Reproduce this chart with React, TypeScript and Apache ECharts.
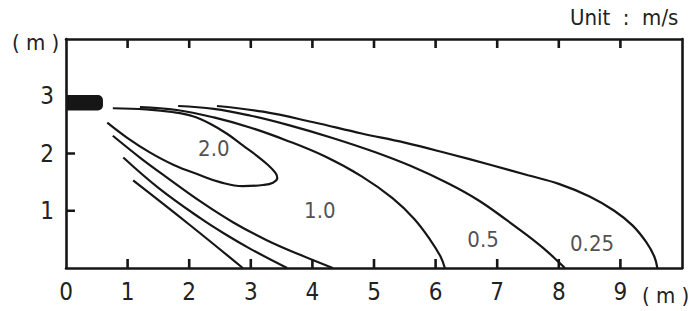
import React, { useEffect, useRef } from "react";
import * as echarts from "echarts";

// Axis ranges / ticks
const xTickValues = [0, 1, 2, 3, 4, 5, 6, 7, 8, 9];
const yTickValues = [1, 2, 3];
const xMarkTicks = [1, 2, 3, 4, 5, 6, 7, 8, 9];
const yMarkTicks = [1, 2, 3];

// Contour lines (x in m, y in m)
const contour20Loop = [
  [0.76, 2.79], [1.3, 2.77], [1.75, 2.72], [2.06, 2.65], [2.34, 2.52], [2.62, 2.34],
  [2.87, 2.14], [3.1, 1.96], [3.28, 1.8], [3.4, 1.66], [3.43, 1.57], [3.36, 1.49],
  [3.2, 1.45], [2.87, 1.43], [2.5, 1.5], [2.18, 1.62], [1.75, 1.8], [1.36, 2.02],
  [1.0, 2.27], [0.67, 2.54],
];
const contour10Upper = [
  [1.2, 2.81], [1.8, 2.76], [2.4, 2.63], [3.0, 2.45], [3.6, 2.22], [4.2, 1.95],
  [4.8, 1.6], [5.3, 1.22], [5.65, 0.86], [5.92, 0.48], [6.08, 0.2], [6.15, 0],
];
const contour10Lower = [
  [0.76, 2.31], [1.2, 1.93], [1.64, 1.58], [2.2, 1.15], [2.71, 0.8], [3.25, 0.49],
  [3.8, 0.23], [4.33, 0],
];
const contour05Upper = [
  [1.82, 2.83], [2.4, 2.78], [3.0, 2.66], [3.6, 2.5], [4.3, 2.28], [5.0, 2.03],
  [5.6, 1.78], [6.2, 1.48], [6.7, 1.18], [7.15, 0.84], [7.5, 0.56], [7.8, 0.3],
  [8.0, 0.1], [8.1, 0],
];
const contour05Lower = [
  [0.93, 1.93], [1.5, 1.4], [2.18, 0.87], [2.6, 0.58], [3.0, 0.33], [3.59, 0],
];
const contour025Upper = [
  [2.45, 2.83], [3.2, 2.73], [4.0, 2.55], [4.8, 2.35], [5.5, 2.19], [6.2, 2.0],
  [6.9, 1.8], [7.5, 1.62], [8.0, 1.47], [8.5, 1.25], [8.9, 1.0], [9.2, 0.74],
  [9.42, 0.45], [9.55, 0.2], [9.6, 0],
];
const contour025Lower = [
  [1.09, 1.53], [2.0, 0.76], [2.87, 0],
];

// Contour labels: [x, y, text]
const contourLabels = [
  [2.4, 2.08, "2.0"],
  [4.12, 1.0, "1.0"],
  [6.77, 0.49, "0.5"],
  [8.54, 0.43, "0.25"],
];

// Nozzle: [xStart, xEnd, yBottom, yTop]
const nozzle = [[0, 0.6, 2.75, 3.02]];

const FONT = "'Liberation Sans Narrow', 'DejaVu Sans Condensed', 'Noto Sans', sans-serif";
const INK = "#161616";
const TICK_LEN = 9;
const TICK_W = 2.6;
const X_MAX = 10;
const Y_MAX = 4;

export default function App() {
  const ref = useRef<HTMLDivElement>(null);

  useEffect(() => {
    if (!ref.current) return;
    const chart = echarts.init(ref.current, null, { renderer: "svg" });

    const lineSeries = (data: number[][]) => ({
      type: "line",
      data,
      smooth: 0.4,
      symbol: "none",
      xAxisIndex: 0,
      yAxisIndex: 0,
      lineStyle: { color: INK, width: 2.2 },
      silent: true,
      z: 3,
    });

    const axisLineStyle = { color: INK, width: 2.6 };

    const baseSeries: any[] = [
      lineSeries(contour20Loop),
      lineSeries(contour10Upper),
      lineSeries(contour10Lower),
      lineSeries(contour05Upper),
      lineSeries(contour05Lower),
      lineSeries(contour025Upper),
      lineSeries(contour025Lower),
      {
        type: "custom",
        xAxisIndex: 0,
        yAxisIndex: 0,
        data: nozzle,
        encode: { x: [0, 1], y: [2, 3] },
        z: 5,
        renderItem: (_params: any, api: any) => {
          const p1 = api.coord([api.value(0), api.value(3)]);
          const p2 = api.coord([api.value(1), api.value(2)]);
          return {
            type: "rect",
            shape: { x: p1[0], y: p1[1], width: p2[0] - p1[0], height: p2[1] - p1[1], r: [0, 5, 5, 0] },
            style: { fill: INK },
          };
        },
      },
      {
        type: "scatter",
        xAxisIndex: 0,
        yAxisIndex: 0,
        data: contourLabels,
        symbolSize: 1,
        itemStyle: { color: "rgba(0,0,0,0)" },
        silent: true,
        label: {
          show: true,
          position: "inside",
          formatter: (p: any) => p.value[2],
          fontSize: 22,
          fontFamily: FONT,
          color: "#222",
        },
        z: 4,
      },
    ];

    chart.setOption({
      animation: false,
      backgroundColor: "#ffffff",
      grid: { left: 66, right: 15, top: 39, bottom: 43, containLabel: false },
      xAxis: [
        {
          type: "value",
          min: 0,
          max: X_MAX,
          interval: 1,
          position: "bottom",
          axisLine: { show: true, onZero: false, lineStyle: axisLineStyle },
          axisTick: { show: false },
          axisLabel: {
            formatter: (v: number) => (xTickValues.includes(v) ? String(v) : ""),
            margin: 12,
            fontSize: 24,
            fontFamily: FONT,
            color: "#222",
          },
          splitLine: { show: false },
        },
        {
          type: "value",
          min: 0,
          max: X_MAX,
          interval: 1,
          position: "top",
          axisLine: { show: true, onZero: false, lineStyle: axisLineStyle },
          axisTick: { show: false },
          axisLabel: { show: false },
          splitLine: { show: false },
        },
      ],
      yAxis: [
        {
          type: "value",
          min: 0,
          max: Y_MAX,
          interval: 1,
          position: "left",
          axisLine: { show: true, onZero: false, lineStyle: axisLineStyle },
          axisTick: { show: false },
          axisLabel: {
            formatter: (v: number) => (yTickValues.includes(v) ? String(v) : ""),
            margin: 12,
            fontSize: 24,
            fontFamily: FONT,
            color: "#222",
          },
          splitLine: { show: false },
        },
        {
          type: "value",
          min: 0,
          max: Y_MAX,
          interval: 1,
          position: "right",
          axisLine: { show: true, onZero: false, lineStyle: axisLineStyle },
          axisTick: { show: false },
          axisLabel: { show: false },
          splitLine: { show: false },
        },
      ],
      series: baseSeries,
      graphic: [
        {
          type: "text",
          left: 570,
          top: 6,
          style: { text: "Unit  :  m/s", font: `22px ${FONT}`, fill: "#222" },
        },
        {
          type: "text",
          left: 12,
          top: 31,
          style: { text: "( m )", font: `22px ${FONT}`, fill: "#222" },
        },
        {
          type: "text",
          left: 642,
          top: 284,
          style: { text: "( m )", font: `22px ${FONT}`, fill: "#222" },
        },
      ],
    });

    // Tick marks drawn as short line series; their length in data units comes
    // from the grid's own scales (TICK_LEN pixels).
    const finder = { gridIndex: 0 };
    const origin = chart.convertToPixel(finder, [0, 0]) as number[];
    const upPt = chart.convertFromPixel(finder, [origin[0], origin[1] - TICK_LEN]) as number[];
    const rightPt = chart.convertFromPixel(finder, [origin[0] + TICK_LEN, origin[1]]) as number[];
    const dy = upPt[1];
    const dx = rightPt[0];

    const tickLine = (data: number[][]) => ({
      type: "line",
      data,
      symbol: "none",
      xAxisIndex: 0,
      yAxisIndex: 0,
      lineStyle: { color: INK, width: TICK_W, cap: "butt" },
      silent: true,
      z: 6,
    });

    const tickSeries: any[] = [];
    xMarkTicks.forEach((v) => {
      tickSeries.push(tickLine([[v, 0], [v, dy]]));
      tickSeries.push(tickLine([[v, Y_MAX], [v, Y_MAX - dy]]));
    });
    yMarkTicks.forEach((v) => {
      tickSeries.push(tickLine([[0, v], [dx, v]]));
    });

    chart.setOption({ series: [...baseSeries, ...tickSeries] });

    return () => chart.dispose();
  }, []);

  return (
    <div
      ref={ref}
      style={{ position: "fixed", left: 0, top: 0, width: 697, height: 311, background: "#fff" }}
    />
  );
}
